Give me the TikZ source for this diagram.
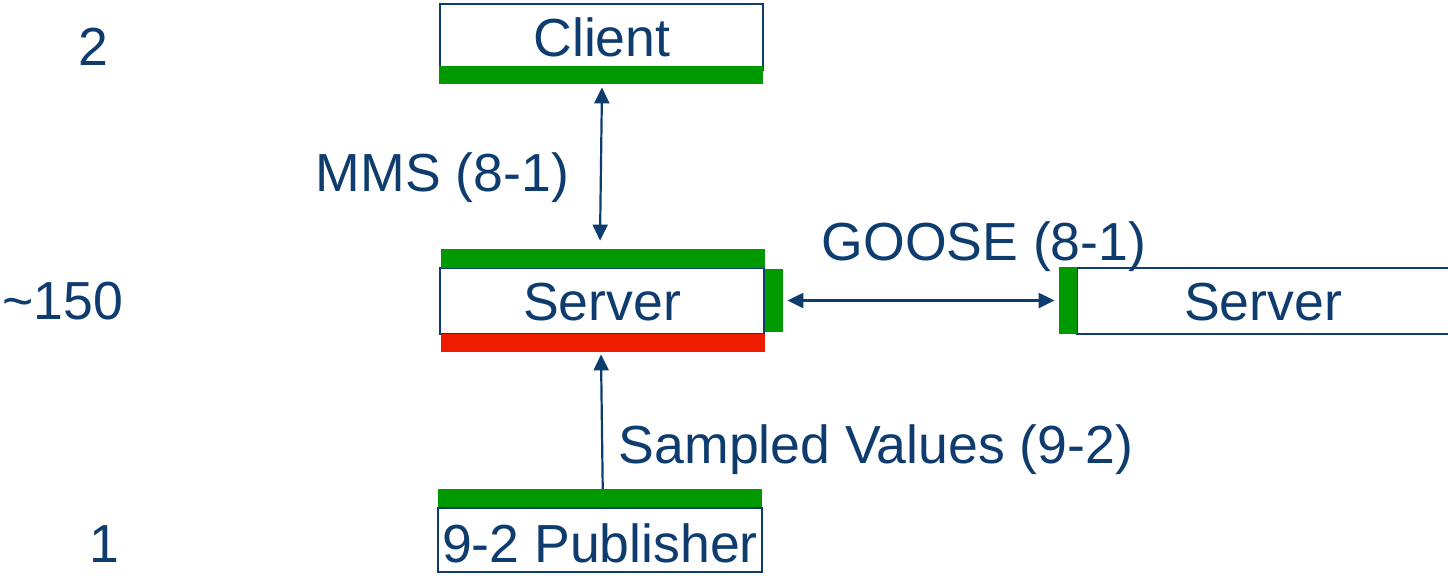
\documentclass[tikz,border=0pt]{standalone}
\usepackage{fontspec}
\setmainfont{Liberation Sans}
\usetikzlibrary{arrows.meta}
\definecolor{txtblue}{RGB}{14,60,110}
\definecolor{bargreen}{RGB}{0,153,0}
\definecolor{barred}{RGB}{237,28,0}
\tikzset{
  lbl/.style={text=txtblue, font=\fontsize{26.8}{30}\selectfont, inner sep=0pt, anchor=base},
  boxnode/.style={draw=txtblue, line width=1pt, fill=white, inner sep=0pt, text=txtblue,
    font=\fontsize{26.8}{30}\selectfont},
  gbar/.style={fill=bargreen, draw=none, inner sep=0pt},
  rbar/.style={fill=barred, draw=none, inner sep=0pt},
  conn/.style={draw=txtblue, line width=1.1pt},
  tip/.style={-{Triangle[length=8pt,width=7.5pt]}},
  tips/.style={{Triangle[length=8pt,width=7.5pt]}-{Triangle[length=8pt,width=7.5pt]}}
}
\begin{document}
\begin{tikzpicture}[x=0.5pt,y=-0.5pt]
\useasboundingbox (0,0) rectangle (1448,575);
\clip (0,0) rectangle (1448,575);
% Client
\node[boxnode, minimum width=161.5pt, minimum height=33pt] (client) at (601.5,37) {};
\node[lbl] (clientt) at (602,56) {Client};
\node[gbar, minimum width=162pt, minimum height=9pt] (cbar) at (601,75) {};
% Server 1
\node[boxnode, minimum width=162pt, minimum height=33pt] (srv) at (602,301) {};
\node[lbl] (srvt) at (602,320) {Server};
\node[gbar, minimum width=162pt, minimum height=9.5pt] (stop) at (603,258.5) {};
\node[rbar, minimum width=162pt, minimum height=9pt] (sbot) at (603,343) {};
\node[gbar, minimum width=9pt, minimum height=31.5pt] (sright) at (774,300.5) {};
% Server 2
\node[boxnode, minimum width=187pt, minimum height=33pt] (srv2) at (1264,301) {};
\node[lbl] (srv2t) at (1263,320) {Server};
\node[gbar, minimum width=9pt, minimum height=33.5pt] (s2bar) at (1068,300.5) {};
% Publisher
\node[boxnode, minimum width=162pt, minimum height=32pt] (pub) at (600,540) {};
\node[lbl] (pubt) at (600,562) {9-2 Publisher};
% connectors
\draw[conn, tips] ([shift={(1,3)}]cbar.south) -- ([shift={(-3,-8)}]stop.north);
\draw[conn, tips] ([xshift=2]sright.east) -- ([xshift=-2]s2bar.west);
\draw[conn, tip] ([shift={(3,2)}]pub.north) -- ([shift={(-2,2)}]sbot.south);
\node[gbar, minimum width=162pt, minimum height=9pt] (pbar) at (600,498) {};
% labels
\node[lbl] (l2) at (93.5,65) {2};
\node[lbl] (l150) at (62.5,319.5) {\textasciitilde150};
\node[lbl] (l1) at (104,562) {1};
\node[lbl] (mms) at (442.5,191.5) {MMS (8-1)};
\node[lbl] (goose) at (984,260) {GOOSE (8-1)};
\node[lbl] (sv) at (876,463) {Sampled Values (9-2)};
\end{tikzpicture}
\end{document}
